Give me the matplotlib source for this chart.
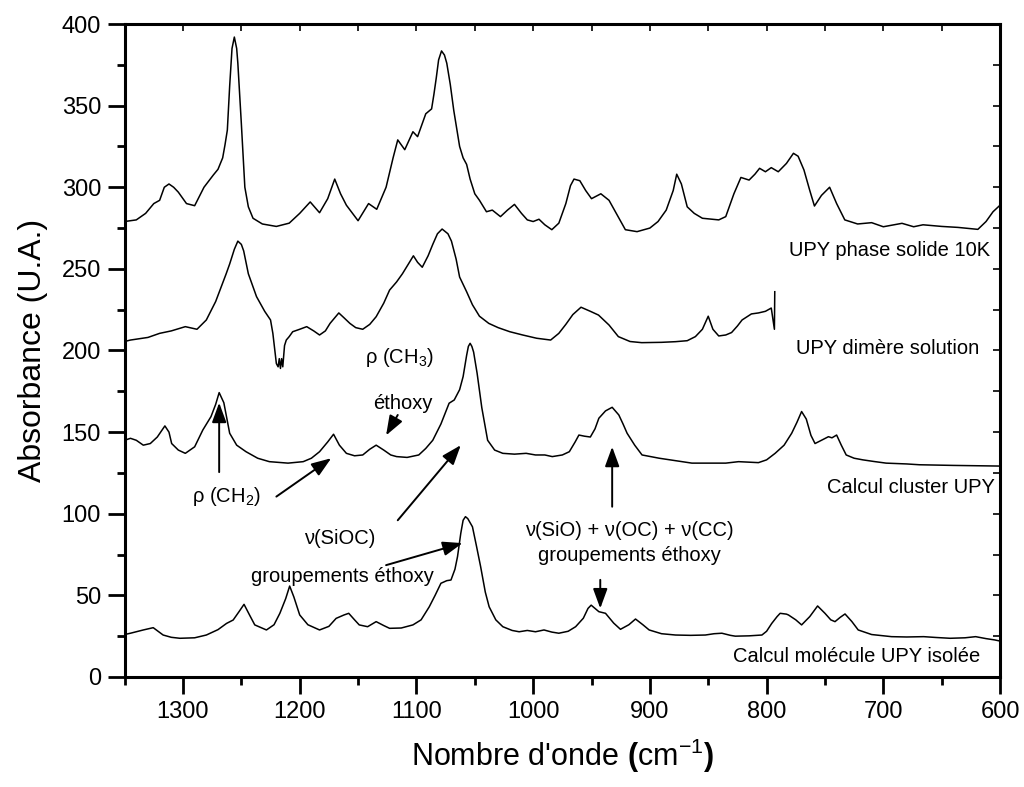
import matplotlib
matplotlib.use("Agg")
import matplotlib.pyplot as plt
from matplotlib.ticker import MultipleLocator

plt.rcParams['font.family'] = ['Liberation Sans', 'DejaVu Sans']
plt.rcParams['mathtext.fontset'] = 'custom'
plt.rcParams['mathtext.rm'] = 'Liberation Sans'
plt.rcParams['mathtext.it'] = 'Liberation Sans:italic'
plt.rcParams['mathtext.bf'] = 'Liberation Sans:bold'

# --- spectra (wavenumber cm-1, absorbance U.A.) ---
wn_solide = [1350, 1340, 1332, 1325, 1320, 1316, 1312, 1308, 1304, 1297,
             1290, 1282, 1274, 1270, 1266, 1264, 1262, 1260, 1258, 1256,
             1254, 1253, 1250, 1247, 1244, 1240, 1232, 1220, 1209, 1200,
             1191, 1183, 1176, 1170, 1165, 1160, 1150, 1141, 1134, 1126,
             1120, 1116, 1110, 1103, 1099, 1092, 1087, 1085, 1083, 1081,
             1078.5, 1076, 1074, 1071, 1068, 1063, 1060, 1057, 1054, 1050,
             1046, 1040, 1035, 1028, 1022, 1016, 1010, 1005, 1000, 995,
             990, 984, 978, 972, 968, 965, 960, 955, 950, 942,
             935, 928, 921, 911, 900, 893, 886, 880, 877, 873,
             868, 862, 855, 841, 835, 828, 822, 815, 810, 806,
             801, 796, 790, 783, 777, 773, 768, 763, 759, 753,
             746, 740, 733, 722, 710, 700, 684, 674, 666, 650,
             636, 619, 612, 606, 600]
ab_solide = [279, 280, 284, 290, 292, 300, 302, 300, 297, 290,
             288.7, 300, 307.5, 311, 318, 326, 335, 362, 385, 392,
             385, 376, 339, 300, 288, 281, 277.5, 276, 278, 284,
             291, 284.4, 293, 305, 296, 289, 279.5, 290, 286.5, 300,
             318, 329, 323, 334, 331, 345, 348, 357, 367, 378,
             383.5, 381, 376, 363, 347, 325, 318, 314, 305, 296,
             292, 285, 286, 282, 286, 289.5, 284, 280, 279, 280.4,
             277, 274, 278, 290, 301, 305, 304, 298, 293, 296,
             292, 283, 274, 272.8, 275, 279, 286, 298, 308, 302,
             288, 284, 281, 280, 282, 296, 306, 304.4, 308, 311.6,
             309.5, 312, 309.5, 314.6, 320.8, 319, 310.6, 298, 288.5, 295,
             300, 290, 280, 277.5, 278.3, 275.8, 277.9, 275.8, 277, 276,
             275.4, 274.2, 279, 285, 289]

wn_dimere = [1350, 1345, 1330, 1320, 1310, 1298, 1288, 1280, 1272, 1263,
             1260, 1256, 1253, 1250, 1248, 1244, 1237, 1230, 1225, 1223,
             1220, 1218.5, 1217.5, 1216.5, 1215.5, 1214.5, 1213, 1211.5, 1209, 1206,
             1200, 1194, 1188, 1183, 1178, 1174, 1166.5, 1162, 1157, 1152,
             1146, 1140, 1134.5, 1128, 1123, 1117, 1112, 1106, 1102.6, 1099,
             1095, 1090, 1086, 1082, 1078, 1073, 1070, 1066, 1063, 1057,
             1052, 1046, 1038, 1030, 1020, 1009, 997, 985, 978, 972,
             966, 959, 951, 944, 935, 927, 917, 907, 890, 878,
             868, 861, 855, 850, 846, 841, 835, 830, 825, 821,
             813, 807, 801, 796, 793.3, 793]
ab_dimere = [205.5, 206.4, 208, 210.5, 212, 214.6, 213, 218.7, 230, 247,
             253, 262, 267, 265, 261, 247, 233, 224, 218.7, 210.5,
             192, 190, 195, 189, 195, 190, 203, 206.4, 208.5, 211.5,
             213, 214.6, 212, 209.5, 212, 216.6, 223, 220, 216.6, 214,
             213, 216, 220.7, 229, 237, 242, 247, 254, 258, 254,
             251, 258, 265, 271.5, 274.4, 271.5, 267, 256, 245, 236,
             228, 221, 216.6, 214, 211.5, 209.5, 207.5, 206.4, 210.5, 216,
             222, 226.5, 224, 221.7, 215.6, 208.5, 205.5, 204.8, 205, 205.4,
             206, 208.5, 213, 221, 213, 208.9, 209.5, 211, 215, 218.7,
             222.4, 223, 224, 226, 213, 236]

wn_cluster = [1350, 1345, 1340, 1334, 1328, 1322, 1315.5, 1312, 1309.7, 1304,
              1298, 1290, 1283, 1276, 1272, 1269, 1265, 1260, 1254, 1246,
              1236, 1226, 1210, 1197, 1190, 1183, 1176, 1171, 1166, 1160,
              1153, 1146, 1140, 1134.5, 1128, 1122, 1117, 1108, 1098, 1092,
              1086, 1079, 1072, 1067.6, 1063, 1060, 1057, 1055.5, 1054, 1052.5,
              1051, 1048, 1044, 1039, 1033, 1026, 1016, 1006, 998, 990,
              983.6, 975, 969, 964, 960.8, 956, 951, 947, 943.7, 938,
              932.3, 926.6, 923, 919.5, 913, 906.7, 892, 878, 864, 850,
              835, 824, 807, 800, 792.7, 785, 778.5, 774, 770, 766,
              762, 758.5, 753, 747, 744, 740, 736, 731.8, 725, 717.5,
              708, 697.6, 680, 669, 640, 620, 600]
ab_cluster = [145, 146.2, 145, 142, 143, 147, 153.8, 150, 143, 139,
              137, 141, 151.3, 159.5, 167, 174.2, 168, 149.3, 142, 138,
              134, 131.9, 131, 131.9, 134, 138, 144, 148.7, 142, 137,
              135.5, 136, 139.5, 142, 139, 136, 135, 134.5, 136, 140,
              145, 155, 167.7, 169.7, 176, 184, 197, 202.5, 204.4, 202.5,
              199, 186, 165, 145, 139, 137, 136.5, 137, 136, 136,
              135, 136, 138, 144, 148.2, 147.5, 147, 152, 158.5, 163,
              165.2, 160.5, 155, 149.3, 142, 136, 134, 132.5, 131, 131,
              131, 131.9, 131.3, 133, 137, 142, 149.3, 156, 162.6, 158,
              148, 143, 145, 147.2, 146.5, 148.2, 142, 136, 134, 133,
              132, 131, 130.5, 130, 129.6, 129.4, 129.2]

wn_molecule = [1350, 1345, 1334, 1325.5, 1317, 1310, 1302.6, 1290, 1280, 1270,
               1262.7, 1257, 1252, 1247.7, 1243, 1238.5, 1228.5, 1222, 1217, 1212,
               1208.6, 1205, 1200, 1193, 1183, 1175, 1168.8, 1162, 1158, 1153,
               1149, 1141.8, 1134.5, 1128, 1123, 1113, 1103, 1096, 1089, 1084,
               1079, 1074, 1070.4, 1067, 1064.8, 1062, 1060, 1058, 1056, 1052,
               1048.5, 1045, 1041, 1037.7, 1032, 1026, 1018, 1012, 1005, 998,
               990.7, 984, 978, 970, 963.6, 957, 953, 950.3, 943.7, 938,
               931, 925.2, 918, 912.3, 906, 900.6, 890, 878, 865, 852.5,
               845, 838.3, 831, 826.8, 815, 804, 800, 795.6, 791, 788.4,
               783, 781.3, 775, 770, 763, 756.3, 750, 745, 741.4, 737,
               732.8, 727, 721.5, 710, 693, 680, 665.4, 655, 642.7, 630,
               620.9, 612, 604.6, 600]
ab_molecule = [26, 26.8, 28.8, 30.2, 25.7, 24.3, 23.7, 24, 25.7, 29,
               32.8, 34.9, 40, 44.5, 38, 31.9, 28.8, 32, 39, 48,
               55.7, 49, 38, 32, 28.8, 31, 35.9, 38, 39, 35,
               31.9, 30.8, 33.9, 31.5, 29.8, 30, 31.9, 35, 43, 50,
               57.4, 59, 59.4, 66, 73.7, 88, 96, 98.2, 97, 92,
               80, 67.6, 52, 43, 35, 30.8, 28.5, 27.7, 28.5, 27.7,
               28.8, 27.5, 26.8, 28, 30.8, 36, 42, 44, 40, 39,
               33, 29.2, 32, 35.5, 32, 28.8, 26.5, 25.7, 25.5, 25.7,
               26.5, 26.8, 25.5, 25, 25.2, 25.7, 28, 32.8, 37, 39,
               38.5, 38, 35, 31.9, 37, 43.5, 39, 35, 33.9, 36.5,
               38.6, 34, 28.8, 26, 24.7, 24.5, 24.7, 24.2, 23.7, 24,
               24.7, 23.5, 22.7, 22]

spectra = [(wn_solide, ab_solide), (wn_dimere, ab_dimere),
           (wn_cluster, ab_cluster), (wn_molecule, ab_molecule)]

labels = ["UPY phase solide 10K", "UPY dimère solution",
          "Calcul cluster UPY", "Calcul molécule UPY isolée"]
label_pos = [(608.5, 261.5), (617.5, 201.5), (604, 116), (617, 12.5)]

fig = plt.figure(figsize=(10.24, 7.87), dpi=100)
ax = fig.add_axes([0.1217, 0.1398, 0.8549, 0.8297])

for wn, ab in spectra:
    ax.plot(wn, ab, color='black', lw=1.1)

for txt, (x, y) in zip(labels, label_pos):
    ax.text(x, y, txt, ha='right', va='center', fontsize=14.5)

# band assignments
fs = 14.5
arrow = dict(arrowstyle='-|>,head_length=0.6,head_width=0.22', color='black',
             lw=1.4, shrinkA=0, shrinkB=0, mutation_scale=20)
ax.text(1114.5, 195.5, r"ρ (CH$_3$)", ha='center', va='center', fontsize=fs)
ax.text(1112, 167.5, "éthoxy", ha='center', va='center', fontsize=fs)
ax.annotate("", xy=(1126, 148), xytext=(1116, 160.5), arrowprops=arrow)
ax.text(1262.5, 110.5, r"ρ (CH$_2$)", ha='center', va='center', fontsize=fs)
ax.annotate("", xy=(1269, 168), xytext=(1269, 125.5), arrowprops=arrow)
ax.annotate("", xy=(1173, 134), xytext=(1220, 110.5), arrowprops=arrow)
ax.text(1166, 85, "ν(SiOC)", ha='center', va='center', fontsize=fs)
ax.annotate("", xy=(1062, 142), xytext=(1116, 96), arrowprops=arrow)
ax.text(1163, 61.5, "groupements éthoxy", ha='center', va='center', fontsize=fs)
ax.annotate("", xy=(1060.5, 82), xytext=(1126, 68.5), arrowprops=arrow)
ax.text(917.5, 90, "ν(SiO) + ν(OC) + ν(CC)", ha='center', va='center', fontsize=fs)
ax.text(917.5, 74.5, "groupements éthoxy", ha='center', va='center', fontsize=fs)
ax.annotate("", xy=(932.3, 141), xytext=(932.3, 104.3), arrowprops=arrow)
ax.annotate("", xy=(942.5, 42), xytext=(942.5, 59.5), arrowprops=arrow)

ax.set_xlim(1350, 600)
ax.set_ylim(0, 400)
ax.xaxis.set_major_locator(MultipleLocator(100))
ax.xaxis.set_minor_locator(MultipleLocator(50))
ax.yaxis.set_major_locator(MultipleLocator(50))
ax.yaxis.set_minor_locator(MultipleLocator(25))
ax.tick_params(which='major', direction='out', length=12, width=2, labelsize=17, pad=5)
ax.tick_params(which='minor', direction='out', length=6, width=2)

for sp in ax.spines.values():
    sp.set_linewidth(2.2)

# inner ticks on top and right
top = ax.secondary_xaxis('top')
top.xaxis.set_major_locator(MultipleLocator(50))
top.tick_params(direction='in', length=5, width=1.2, labeltop=False)
right = ax.secondary_yaxis('right')
right.yaxis.set_major_locator(MultipleLocator(25))
right.tick_params(direction='in', length=5, width=1.2, labelright=False)

ax.set_xlabel(r"Nombre d'onde $\mathbf{(}$cm$^{-1}$$\mathbf{)}$", fontsize=22, labelpad=10)
ax.set_ylabel("Absorbance (U.A.)", fontsize=23, labelpad=10)

fig.savefig("out.png", dpi=100)
